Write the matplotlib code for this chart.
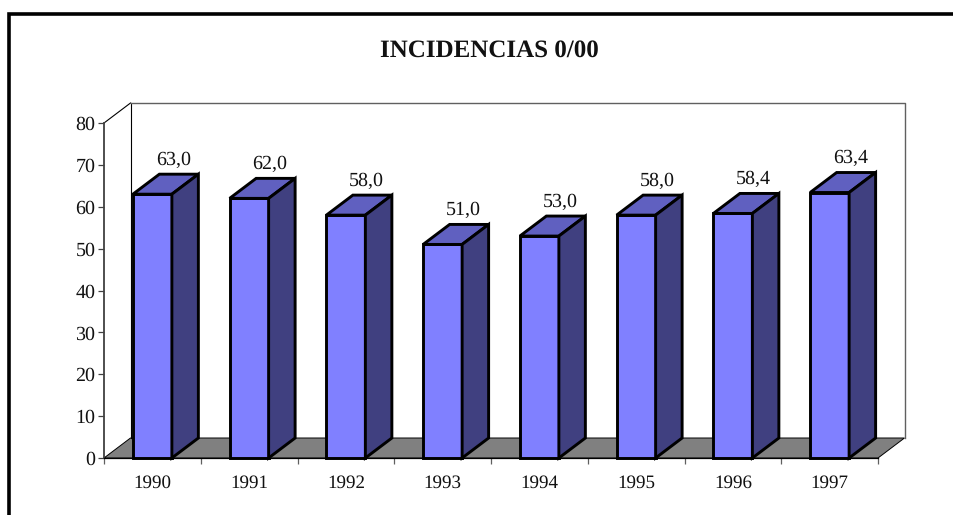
import matplotlib
matplotlib.use('Agg')
import matplotlib.pyplot as plt
from matplotlib.lines import Line2D
from matplotlib.patches import Polygon

plt.rcParams['font.family'] = ['Liberation Serif', 'DejaVu Serif']
plt.rcParams['text.hinting'] = 'none'
plt.rcParams['text.hinting_factor'] = 1

years = ['1990', '1991', '1992', '1993', '1994', '1995', '1996', '1997']
values = [63.0, 62.0, 58.0, 51.0, 53.0, 58.0, 58.4, 63.4]
labels = ['63,0', '62,0', '58,0', '51,0', '53,0', '58,0', '58,4', '63,4']
yticks = [0, 10, 20, 30, 40, 50, 60, 70, 80]

W, H = 954, 515
fig = plt.figure(figsize=(W / 100, H / 100), dpi=100, facecolor='white')

# outer frame, only left and top are visible in the picture
fig.add_artist(Line2D([9.5 / W, 9.5 / W, 1], [0, 1 - 13.5 / H, 1 - 13.5 / H],
                      color='black', lw=2.6, solid_joinstyle='miter'))

left, right, top, bottom = 104, 878, 123, 458
ax = fig.add_axes([left / W, 1 - bottom / H, (right - left) / W, (bottom - top) / H])
ax.set_xlim(0, 8)
ax.set_ylim(0, 80)
ax.patch.set_visible(False)
for s in ax.spines.values():
    s.set_visible(False)

# 3d depth in data units
dx = 26.5 / ((right - left) / 8)
dy = 20 / ((bottom - top) / 80)
bw = 0.403

# floor
ax.add_patch(Polygon([(0, 0), (dx, dy), (8 + dx, dy), (8, 0)], closed=True, fc='#808080',
                     ec='black', lw=0.7, clip_on=False, zorder=1))
# walls
ax.plot([dx, dx], [dy, 80 + dy], color='black', lw=0.8, clip_on=False, zorder=1)
ax.plot([0, dx], [80, 80 + dy], color='black', lw=0.8, clip_on=False, zorder=1)
ax.plot([dx, 8 + dx, 8 + dx], [80 + dy, 80 + dy, dy], color='#606060', lw=1.0, clip_on=False, zorder=1)

# axes lines
ax.plot([0, 0], [0, 80], color='#404040', lw=1.3, clip_on=False, zorder=2)
ax.plot([0, 8], [0, 0], color='black', lw=0.9, clip_on=False, zorder=2)
ax.set_xticks(range(9))
ax.set_xticks([i + 0.5 for i in range(8)], minor=True)
ax.set_xticklabels([])
ax.set_xticklabels(years, minor=True, fontsize=14, color='#111111')
ax.tick_params(axis='x', which='major', length=4.5, width=0.9, color='#606060')
ax.tick_params(axis='x', which='minor', length=0, pad=12)
ax.set_yticks(yticks)
ax.tick_params(axis='y', length=4, width=0.9, color='#404040', labelsize=14.4, pad=2.2, labelcolor='#111111')

# bars
for i, v in enumerate(values):
    x0 = i + 0.5 - bw / 2
    x1 = x0 + bw
    ax.bar(i + 0.5, v, width=bw, color='#8080FF', edgecolor='black', lw=2.1, zorder=3, clip_on=False)
    ax.add_patch(Polygon([(x0, v), (x0 + dx, v + dy), (x1 + dx, v + dy), (x1, v)], closed=True,
                         fc='#6060C0', ec='black', lw=2.1, clip_on=False, zorder=3))
    ax.add_patch(Polygon([(x1, 0), (x1 + dx, dy), (x1 + dx, v + dy), (x1, v)], closed=True,
                         fc='#404080', ec='black', lw=2.1, clip_on=False, zorder=3))
    ax.annotate(labels[i], (i + 0.5, v + dy), xytext=(15, 3.5), textcoords='offset points',
                ha='center', va='bottom', fontsize=14.2, color='#111111', annotation_clip=False)

fig.text(489 / W, 1 - 50.5 / H, 'INCIDENCIAS 0/00', ha='center', va='center',
         fontsize=18.1, fontweight='bold', color='#111111')

fig.savefig('out.png', dpi=100)
